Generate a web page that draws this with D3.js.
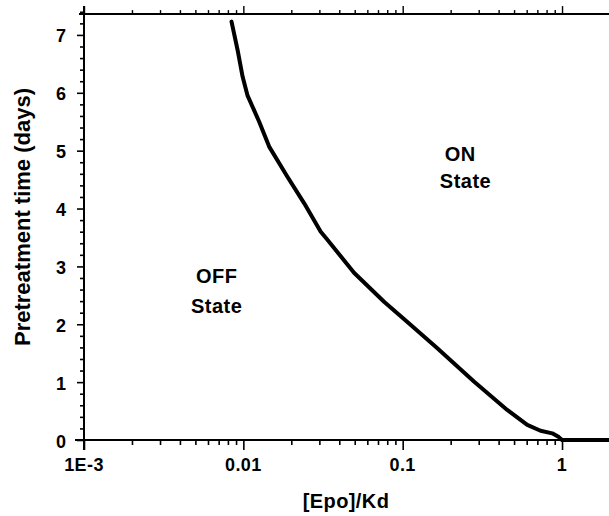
<!DOCTYPE html>
<html>
<head>
<meta charset="utf-8">
<script src="https://cdn.jsdelivr.net/npm/d3@7"></script>
<style>
  html, body { margin: 0; padding: 0; background: #fff; }
  svg { display: block; }
  text { font-family: "Liberation Sans", Arial, sans-serif; font-weight: bold; fill: #000; }
</style>
</head>
<body>
<svg id="chart" width="609" height="516"></svg>
<script>
// Boundary between OFF and ON states: pretreatment time vs [Epo]/Kd
const epoKd = [0.00843, 0.0092, 0.00989, 0.0106, 0.01257, 0.01452, 0.0189, 0.0241, 0.0306,
               0.0335, 0.0495, 0.0764, 0.112, 0.165, 0.28, 0.453, 0.605, 0.733,
               0.868, 0.955, 1.0, 2.0];
const pretreatDays = [7.23, 6.74, 6.28, 5.96, 5.50, 5.07, 4.55, 4.09, 3.60,
                      3.47, 2.89, 2.39, 1.99, 1.585, 1.01, 0.52, 0.26, 0.16,
                      0.115, 0.05, 0, 0];

const xMajorTicks = [0.001, 0.01, 0.1, 1];
const xTickLabels = ["1E-3", "0.01", "0.1", "1"];
const yTicks = [0, 1, 2, 3, 4, 5, 6, 7];
const regionLabels = [
  { lines: ["OFF", "State"], x: [0.0068, 0.0068], y: [2.71, 2.20] },
  { lines: ["ON", "State"], x: [0.23, 0.248], y: [4.83, 4.35] }
];

const svg = d3.select("#chart");
const x = d3.scaleLog().domain([0.001, 2]).range([84, 610]);
const y = d3.scaleLinear().domain([0, 7.5]).range([440, 6]);
const yFrameTop = 7.36;

// minor log ticks: 2..9 in every decade
const xMinor = [];
[0.001, 0.01, 0.1, 1].forEach(d => { for (let k = 2; k <= 9; k++) { const v = d * k; if (v <= 2) xMinor.push(v); } });
const yMinor = d3.range(0, 7.41, 0.2).map(v => +v.toFixed(1)).filter(v => Math.abs(v - Math.round(v)) > 1e-6);

const axisColor = "#000";

// bottom axis
const gB = svg.append("g").attr("transform", `translate(0,${y(0)})`);
gB.call(d3.axisBottom(x).tickValues(xMajorTicks).tickSize(10).tickFormat(""));
gB.append("g").call(d3.axisBottom(x).tickValues(xMinor).tickSize(5).tickFormat(""));
gB.selectAll(".domain").remove();
gB.selectAll("line").attr("stroke", axisColor).attr("stroke-width", 1.6);
gB.append("line").attr("x1", x(0.001) - 9).attr("x2", 610).attr("y1", 0).attr("y2", 0)
  .attr("stroke", axisColor).attr("stroke-width", 2);
gB.selectAll(".lbl").data(xMajorTicks).join("text").attr("class", "lbl")
  .attr("x", d => x(d)).attr("y", 30.7).attr("text-anchor", "middle")
  .attr("font-size", 18).attr("letter-spacing", 0.4)
  .text((d, i) => xTickLabels[i]);

// top frame axis (ticks pointing outward, no labels)
const gT = svg.append("g").attr("transform", `translate(0,${y(yFrameTop)})`);
gT.call(d3.axisTop(x).tickValues(xMajorTicks).tickSize(8).tickFormat(""));
gT.append("g").call(d3.axisTop(x).tickValues(xMinor).tickSize(4).tickFormat(""));
gT.selectAll(".domain").remove();
gT.selectAll("line").attr("stroke", axisColor).attr("stroke-width", 1.4);
gT.append("line").attr("x1", x(0.001) - 5).attr("x2", 610).attr("y1", 0).attr("y2", 0)
  .attr("stroke", axisColor).attr("stroke-width", 2);

// left axis
const gL = svg.append("g").attr("transform", `translate(${x(0.001)},0)`);
gL.call(d3.axisLeft(y).tickValues(yTicks).tickSize(7).tickFormat(""));
gL.append("g").call(d3.axisLeft(y).tickValues(yMinor).tickSize(4).tickFormat(""));
gL.selectAll(".domain").remove();
gL.selectAll("line").attr("stroke", axisColor).attr("stroke-width", 1.6);
gL.append("line").attr("x1", 0).attr("x2", 0).attr("y1", y(0) + 10).attr("y2", y(7.5))
  .attr("stroke", axisColor).attr("stroke-width", 2);
gL.selectAll(".lbl").data(yTicks).join("text").attr("class", "lbl")
  .attr("x", -18).attr("y", d => y(d) + 7.5).attr("text-anchor", "end")
  .attr("font-size", 18).text(d => d);

// axis titles
svg.append("text").attr("x", 346).attr("y", 507.5).attr("text-anchor", "middle")
  .attr("font-size", 20).attr("letter-spacing", 0.4).text("[Epo]/Kd");
svg.append("text").attr("transform", `translate(29.5,217) rotate(-90)`)
  .attr("text-anchor", "middle").attr("font-size", 22).text("Pretreatment time (days)");

// boundary curve
const line = d3.line().x((d, i) => x(epoKd[i])).y((d, i) => y(pretreatDays[i])).curve(d3.curveLinear);
svg.append("path").attr("d", line(epoKd)).attr("fill", "none").attr("stroke", "#000")
  .attr("stroke-width", 4).attr("stroke-linejoin", "round").attr("stroke-linecap", "round");

// region labels
regionLabels.forEach(r => {
  r.lines.forEach((t, i) => {
    svg.append("text").attr("x", x(r.x[i])).attr("y", y(r.y[i])).attr("text-anchor", "middle")
      .attr("font-size", 20).attr("letter-spacing", 0.5).text(t);
  });
});
</script>
</body>
</html>
